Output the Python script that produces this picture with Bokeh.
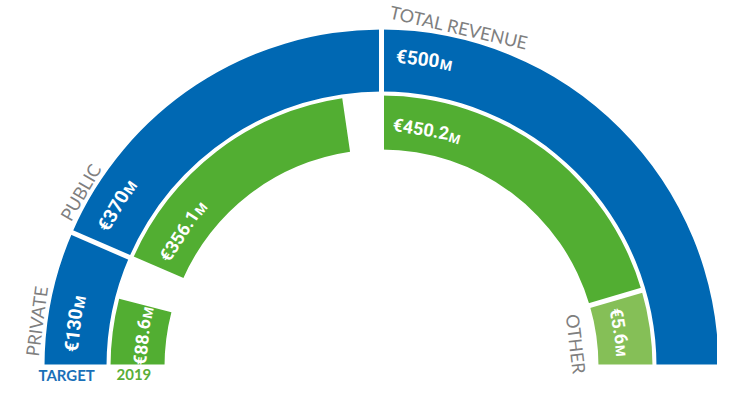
import math
from bokeh.plotting import figure
from bokeh.models import Range1d
from bokeh.core.properties import value
from bokeh.embed import file_html
from bokeh.resources import INLINE

# ---------------- data ----------------
target_categories = ["PRIVATE", "PUBLIC", "TOTAL REVENUE"]
target_values = [130, 370, 500]            # €M, outer ring (TARGET)
target_labels = ["€130", "€370", "€500"]

actual_categories = ["PRIVATE", "PUBLIC", "TOTAL REVENUE", "OTHER"]
actual_values = [88.6, 356.1, 450.2, 5.6]  # €M, inner ring (2019)
actual_labels = ["€88.6", "€356.1", "€450.2", "€5.6"]

legend_labels = ["TARGET", "2019"]
unit_suffix = "M"

# ---------------- styling / geometry ----------------
W, H = 717, 385
TOP = 401
CX, CY = 381.0, TOP - 366.0   # centre of the half-donut (1 data unit = 1 px)
R_BLUE = (275, 337)
R_GREEN = (217, 271)
OUTER_SCALE_TOTAL = sum(target_values)   # half circle = 1000
INNER_SCALE_TOTAL = 1100                 # inner ring drawn on a slightly smaller scale
GAP = 5
BLUE = "#0068b3"
GREEN = "#52ae32"
LIGHT_GREEN = "#85bf57"
GREY = "#7f7f7f"

VAL_FONT = value("Roboto")
CAT_FONT = value("Lato")
BLUE_SIZE, BLUE_M = 19, 14
GREEN_SIZE, GREEN_M = 18, 13
CAT_SIZE = 18

p = figure(width=W, height=H, x_range=Range1d(0, W), y_range=Range1d(TOP - H, TOP),
           output_backend="svg", toolbar_location=None, min_border=0)
p.axis.visible = False
p.grid.visible = False
p.outline_line_color = None
p.background_fill_color = "white"
p.border_fill_color = "white"

d2r = math.pi / 180.0

def polar(r, deg):
    return CX + r * math.cos(deg * d2r), CY + r * math.sin(deg * d2r)

# outer ring segments (clockwise from the left)
blue_start, blue_end = [], []
a = 180.0
for v in target_values:
    s = a
    e = a - v / OUTER_SCALE_TOTAL * 180.0
    blue_start.append(s)
    blue_end.append(e)
    a = e

# inner ring: each segment starts at its target's start; OTHER fills the rest
green_start, green_end, green_col = [], [], []
for i, v in enumerate(actual_values[:3]):
    s = blue_start[i]
    green_start.append(s)
    green_end.append(s - v / INNER_SCALE_TOTAL * 180.0)
    green_col.append(GREEN)
green_start.append(green_end[2])
green_end.append(0.0)
green_col.append(LIGHT_GREEN)

p.annular_wedge(x=[CX] * 3, y=[CY] * 3, inner_radius=R_BLUE[0], outer_radius=R_BLUE[1],
                start_angle=[e * d2r for e in blue_end], end_angle=[s * d2r for s in blue_start],
                color=BLUE, line_color=None)
p.annular_wedge(x=[CX] * 4, y=[CY] * 4, inner_radius=R_GREEN[0], outer_radius=R_GREEN[1],
                start_angle=[e * d2r for e in green_end], end_angle=[s * d2r for s in green_start],
                color=green_col, line_color=None)

# white straight gaps between segments
gx0, gy0, gx1, gy1 = [], [], [], []
for ang in blue_start[1:]:
    x0, y0 = polar(R_GREEN[0] - 4, ang)
    x1, y1 = polar(R_BLUE[1] + 4, ang)
    gx0.append(x0); gy0.append(y0); gx1.append(x1); gy1.append(y1)
x0, y0 = polar(R_GREEN[0] - 4, green_start[3])
x1, y1 = polar(R_GREEN[1] + 1, green_start[3])
gx0.append(x0); gy0.append(y0); gx1.append(x1); gy1.append(y1)
p.segment(x0=gx0, y0=gy0, x1=gx1, y1=gy1, line_color="white", line_width=GAP)

# flat bottom cut
CUT = CY + 2
p.quad(left=[0], right=[W], bottom=[TOP - H], top=[CUT], color="white", line_color=None)

# --------- value labels ---------
ROB_W = {"€": 0.56, ".": 0.27}
def val_width(s, size):
    return sum(ROB_W.get(c, 0.5615) for c in s) * size

vx, vy, vang, vtxt, vsize = [], [], [], [], []
mx, my, mang, msize = [], [], [], []
def add_value(label, start, end, r_c, pad, size, msz):
    w = val_width(label, size)
    wm = 0.87 * msz
    total = w + 1.5 + wm
    arc = (start - end) * d2r * r_c
    pad = min(pad, max(2.0, (arc - total) / 2))
    tc = start - (pad + w / 2) / r_c / d2r
    x, y = polar(r_c, tc)
    vx.append(x); vy.append(y); vang.append((tc - 90) * d2r); vtxt.append(label)
    vsize.append(f"{size}px")
    tm = start - (pad + w + 1.5) / r_c / d2r
    rm = r_c - 0.355 * (size - msz)
    x, y = polar(rm, tm)
    mx.append(x); my.append(y); mang.append((tm - 90) * d2r); msize.append(f"{msz}px")

for lab, s, e in zip(target_labels, blue_start, blue_end):
    add_value(lab, s, e, (R_BLUE[0] + R_BLUE[1]) / 2 + 4, 15, BLUE_SIZE, BLUE_M)
for lab, s, e in zip(actual_labels, green_start, green_end):
    add_value(lab, s, e, (R_GREEN[0] + R_GREEN[1]) / 2 - 3, 12, GREEN_SIZE, GREEN_M)

p.text(x=vx, y=vy, text=vtxt, angle=vang, text_font=VAL_FONT, text_font_style="bold",
       text_font_size=vsize, text_color="white", text_align="center",
       text_baseline="middle")
p.text(x=mx, y=my, text=[unit_suffix] * len(mx), angle=mang, text_font=VAL_FONT,
       text_font_style="bold", text_font_size=msize, text_color="white",
       text_align="left", text_baseline="middle")

# --------- category labels ---------
LATO_W = {'P': 0.6, 'R': 0.6, 'I': 0.27, 'V': 0.64, 'A': 0.64, 'T': 0.55, 'E': 0.53,
          'U': 0.68, 'B': 0.6, 'L': 0.5, 'C': 0.64, 'O': 0.74, 'H': 0.72, 'N': 0.72, ' ': 0.26}
def cat_width(s):
    return sum(LATO_W.get(c, 0.6) for c in s) * CAT_SIZE

cx_, cy_, cang, ctxt = [], [], [], []
def add_cat(label, start, r_c, pad):
    w = cat_width(label)
    tc = start - (pad + w / 2) / r_c / d2r
    x, y = polar(r_c, tc)
    cx_.append(x); cy_.append(y); cang.append((tc - 90) * d2r); ctxt.append(label)

for lab, s in zip(target_categories, blue_start):
    add_cat(lab, s, R_BLUE[1] + 11, 11)
add_cat(actual_categories[3], green_start[3], R_GREEN[0] - 21, 5)

p.text(x=cx_, y=cy_, text=ctxt, angle=cang, text_font=CAT_FONT, text_font_size=f"{CAT_SIZE}px",
       text_color=GREY, text_align="center", text_baseline="middle")

# --------- legend texts ---------
LEG_Y = CUT - 10
p.text(x=[CX - R_BLUE[1] - 6], y=[LEG_Y], text=[legend_labels[0]], text_font=CAT_FONT,
       text_font_style="bold", text_font_size="15px", text_color="#1a70b8",
       text_align="left", text_baseline="middle")
p.text(x=[CX - R_GREEN[1] + 6], y=[LEG_Y], text=[legend_labels[1]], text_font=CAT_FONT,
       text_font_style="bold", text_font_size="15px", text_color="#5aae38",
       text_align="left", text_baseline="middle")

open("out.html", "w").write(file_html(p, INLINE))
